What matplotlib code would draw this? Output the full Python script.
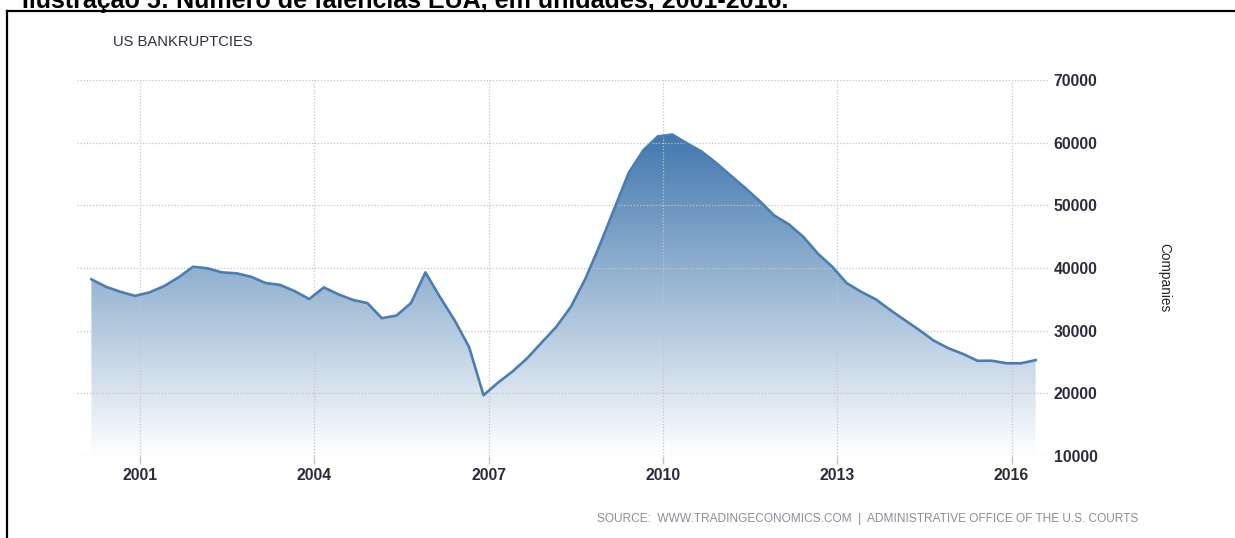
import matplotlib
matplotlib.use("Agg")
import matplotlib.pyplot as plt
import numpy as np
import pandas as pd
from matplotlib.colors import LinearSegmentedColormap
from matplotlib.lines import Line2D

# ---- data (quarterly US business bankruptcies) ----
values = [38200, 37000, 36200, 35550, 36100, 37100, 38500, 40200,
          39950, 39300, 39150, 38600, 37600, 37300, 36300, 35050,
          36900, 35800, 34900, 34400, 32000, 32400, 34400, 39300,
          35400, 31700, 27400, 19700, 21700, 23500, 25600, 28100,
          30600, 33800, 38300, 43700, 49400, 55200, 58800, 61000,
          61300, 59900, 58600, 56800, 54800, 52800, 50700, 48400,
          47000, 45000, 42300, 40200, 37600, 36200, 35000, 33300,
          31700, 30100, 28400, 27200, 26300, 25200, 25200, 24800,
          24800, 25300]
start_date = "2000-03-01"
x_ticks = [2001, 2004, 2007, 2010, 2013, 2016]
x_tick_labels = ["2001", "2004", "2007", "2010", "2013", "2016"]
y_ticks = [10000, 20000, 30000, 40000, 50000, 60000, 70000]
y_tick_labels = ["10000", "20000", "30000", "40000", "50000", "60000", "70000"]
chart_title = "US BANKRUPTCIES"
y_label = "Companies"
source_text = "SOURCE:  WWW.TRADINGECONOMICS.COM  |  ADMINISTRATIVE OFFICE OF THE U.S. COURTS"
caption = "Ilustração 5: Número de falências EUA, em unidades, 2001-2016."

quarters = pd.date_range(start_date, periods=len(values), freq="3MS")
xs = np.asarray(quarters.year + (quarters.dayofyear - 1) / 366.0, dtype=float)
ys = np.asarray(values, dtype=float)

W, H = 1235, 538
fig = plt.figure(figsize=(W / 100, H / 100), dpi=100)
fig.patch.set_facecolor("white")

def fx(px):
    return px / W

def fy(py):
    return 1 - py / H

left, right, top, bottom = 77, 1048, 80, 456
ax = fig.add_axes([fx(left), fy(bottom), fx(right - left), (bottom - top) / H])
ax.set_facecolor("none")

xmin, xmax = 1999.916, 2016.628
ymin, ymax = 10000, 70000

# gradient fill clipped to the area under the curve
poly = ax.fill_between(xs, ys, ymin, facecolor="none", edgecolor="none")
cmap = LinearSegmentedColormap.from_list("grad", ["#ffffff", "#3f76ad"])
grad = np.linspace(0, 1, 256).reshape(-1, 1)
im = ax.imshow(grad, extent=[xmin, xmax, ymin, 62000], origin="lower",
               aspect="auto", cmap=cmap, vmin=0, vmax=1, zorder=1,
               interpolation="bilinear")
im.set_clip_path(poly.get_paths()[0], transform=ax.transData)

ax.plot(xs, ys, color="#4a7db3", lw=1.9, solid_joinstyle="round", zorder=3)

ax.set_xlim(xmin, xmax)
ax.set_ylim(ymin, ymax)

# grid
for yt in y_ticks:
    ax.axhline(yt, color="#c4c4c4", lw=0.9, ls=(0, (1, 1.5)), zorder=2)
for xt in x_ticks:
    ax.axvline(xt, color="#c4c4c4", lw=0.9, ls=(0, (1, 1.5)), zorder=2)

for s in ax.spines.values():
    s.set_visible(False)

ax.set_xticks(x_ticks)
ax.set_xticklabels(x_tick_labels)
ax.set_yticks(y_ticks)
ax.set_yticklabels(y_tick_labels)
ax.yaxis.tick_right()
ax.tick_params(axis="y", length=0, pad=4)
ax.tick_params(axis="x", length=6, color="#c4c4c4", width=1, pad=3)
for lab in ax.get_xticklabels() + ax.get_yticklabels():
    lab.set_fontfamily("Liberation Sans")
    lab.set_fontweight("bold")
    lab.set_fontsize(11.3)
    lab.set_color("#2a2a3a")

fig.canvas.draw()
renderer = fig.canvas.get_renderer()

def fit(t, target_w):
    bb = t.get_window_extent(renderer)
    t.set_fontsize(t.get_fontsize() * target_w / bb.width)

t1 = fig.text(fx(113), fy(42), chart_title, fontsize=10.5, family="Liberation Sans",
              color="#2e2e3e", ha="left", va="center")
fit(t1, 140)

fig.text(fx(1164), fy(278), y_label, fontsize=9.8, family="Liberation Sans",
         color="#222222", rotation=270, ha="center", va="center")

t2 = fig.text(fx(597), fy(519), source_text, fontsize=8, family="Liberation Sans",
              color="#8a8e96", ha="left", va="center")
fit(t2, 541)

t3 = fig.text(fx(22), fy(8), caption, fontsize=15, family="Liberation Sans",
              fontweight="bold", color="black", ha="left", va="baseline")
fit(t3, 768)

# page frame
fig.add_artist(Line2D([fx(7), fx(7)], [fy(11), 0], transform=fig.transFigure,
                      color="black", lw=1.6))
fig.add_artist(Line2D([fx(7), 1], [fy(11), fy(11)], transform=fig.transFigure,
                      color="black", lw=1.6))

fig.savefig("out.png", dpi=100, facecolor="white")
